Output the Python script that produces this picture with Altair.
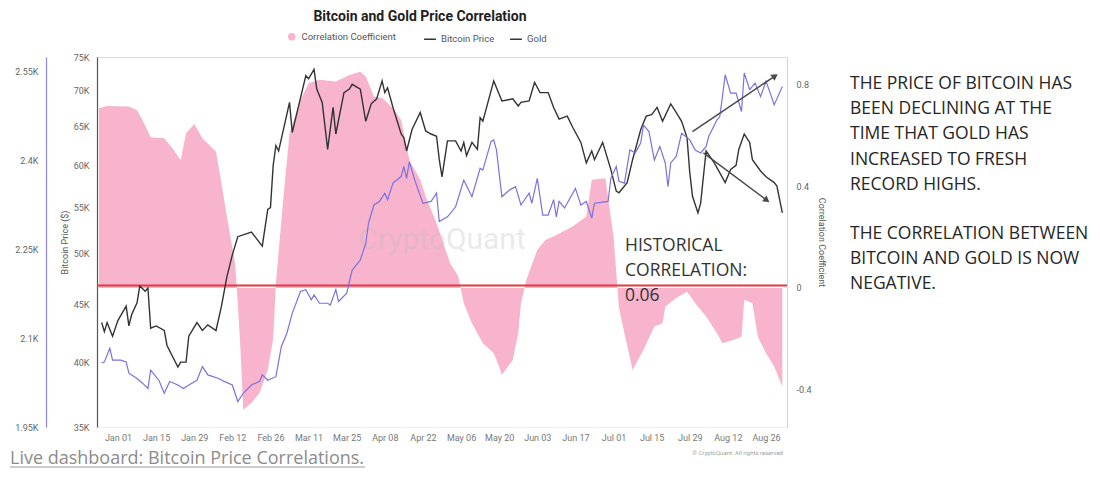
import altair as alt
import pandas as pd

TITLE = "Bitcoin and Gold Price Correlation"

# ---- Correlation coefficient (right axis) ----
corr_dates = [
    "2023-12-25", "2023-12-28",
    "2024-01-05", "2024-01-08", "2024-01-10", "2024-01-13", "2024-01-18", "2024-01-21", "2024-01-24", "2024-01-26", "2024-01-29",
    "2024-02-01", "2024-02-06", "2024-02-08", "2024-02-10", "2024-02-13", "2024-02-14", "2024-02-15", "2024-02-16", "2024-02-19", "2024-02-22", "2024-02-25", "2024-02-27", "2024-02-28",
    "2024-03-02", "2024-03-04", "2024-03-08", "2024-03-11", "2024-03-15", "2024-03-21", "2024-03-26", "2024-03-30",
    "2024-04-01", "2024-04-04", "2024-04-07", "2024-04-11", "2024-04-14", "2024-04-16", "2024-04-17", "2024-04-21", "2024-04-23", "2024-04-27",
    "2024-05-02", "2024-05-05", "2024-05-07", "2024-05-10", "2024-05-14", "2024-05-18", "2024-05-20", "2024-05-21", "2024-05-25", "2024-05-27", "2024-05-28", "2024-05-30",
    "2024-06-03", "2024-06-06", "2024-06-10", "2024-06-16", "2024-06-21", "2024-06-23", "2024-06-28",
    "2024-07-01", "2024-07-03", "2024-07-08", "2024-07-12", "2024-07-16", "2024-07-19", "2024-07-20", "2024-07-24", "2024-07-28", "2024-07-31",
    "2024-08-04", "2024-08-08", "2024-08-10", "2024-08-14", "2024-08-17", "2024-08-18", "2024-08-21", "2024-08-23", "2024-08-26", "2024-08-29",
    "2024-09-01",
]
corr_values = [
    0.708, 0.717,
    0.715, 0.700, 0.662, 0.594, 0.590, 0.550, 0.504, 0.610, 0.646,
    0.590, 0.537, 0.413, 0.281, 0.097, -0.060, -0.244, -0.480, -0.453, -0.414, -0.323, -0.200, 0.020,
    0.386, 0.610, 0.740, 0.807, 0.820, 0.813, 0.839, 0.852,
    0.833, 0.754, 0.748, 0.708, 0.662, 0.557, 0.504, 0.426, 0.360, 0.255,
    0.097, 0.045, -0.060, -0.139, -0.218, -0.257, -0.310, -0.343, -0.284, -0.179, -0.060, 0.032,
    0.150, 0.189, 0.209, 0.242, 0.281, 0.426, 0.432,
    0.202, -0.080, -0.323, -0.244, -0.152, -0.139, -0.074, -0.040, -0.015, -0.060,
    -0.113, -0.179, -0.218, -0.205, -0.192, -0.047, -0.060, -0.192, -0.257, -0.310,
    -0.389,
]

# ---- Bitcoin price (USD) ----
btc_dates = [
    "2023-12-26", "2023-12-27", "2023-12-28", "2023-12-30",
    "2024-01-01", "2024-01-04", "2024-01-05", "2024-01-06", "2024-01-08", "2024-01-09", "2024-01-11", "2024-01-12", "2024-01-13", "2024-01-15", "2024-01-18", "2024-01-19", "2024-01-23", "2024-01-24", "2024-01-26", "2024-01-27", "2024-01-30",
    "2024-02-01", "2024-02-03", "2024-02-06", "2024-02-08", "2024-02-10", "2024-02-12", "2024-02-14", "2024-02-19", "2024-02-23", "2024-02-25", "2024-02-26", "2024-02-27", "2024-02-28", "2024-02-29",
    "2024-03-04", "2024-03-05", "2024-03-07", "2024-03-10", "2024-03-11", "2024-03-13", "2024-03-14", "2024-03-16", "2024-03-18", "2024-03-20", "2024-03-21", "2024-03-24", "2024-03-26", "2024-03-27", "2024-03-30",
    "2024-04-01", "2024-04-03", "2024-04-05", "2024-04-07", "2024-04-08", "2024-04-09", "2024-04-11", "2024-04-14", "2024-04-15", "2024-04-16", "2024-04-18", "2024-04-21", "2024-04-23", "2024-04-25", "2024-04-27", "2024-04-28", "2024-04-29",
    "2024-05-01", "2024-05-04", "2024-05-06", "2024-05-07", "2024-05-08", "2024-05-10", "2024-05-12", "2024-05-13", "2024-05-14", "2024-05-18", "2024-05-21", "2024-05-25", "2024-05-27", "2024-05-28", "2024-05-31",
    "2024-06-02", "2024-06-04", "2024-06-07", "2024-06-09", "2024-06-11", "2024-06-14", "2024-06-16", "2024-06-19", "2024-06-21", "2024-06-23", "2024-06-24", "2024-06-27", "2024-06-30",
    "2024-07-02", "2024-07-03", "2024-07-06", "2024-07-08", "2024-07-11", "2024-07-13", "2024-07-15", "2024-07-17", "2024-07-19", "2024-07-22", "2024-07-24", "2024-07-26", "2024-07-28", "2024-07-29", "2024-07-30",
    "2024-08-01", "2024-08-02", "2024-08-03", "2024-08-04", "2024-08-07", "2024-08-09", "2024-08-11", "2024-08-13", "2024-08-15", "2024-08-16", "2024-08-18", "2024-08-20", "2024-08-21", "2024-08-24", "2024-08-26", "2024-08-29", "2024-08-30",
    "2024-09-01",
]
btc_values = [
    43400, 42600, 43400, 42200,
    43600, 44900, 43100, 44100, 45200, 46800, 46300, 46600, 42900, 43100, 42700, 41400, 39600, 40000, 40000, 42200, 43400,
    42700, 43200, 42700, 44900, 47700, 49900, 51800, 52300, 50800, 54800, 55000, 60000, 62500, 61800,
    68300, 64200, 67300, 72200, 71700, 73100, 70200, 68300, 62000, 67600, 64000, 69700, 70200, 70900, 70200,
    65700, 68100, 68800, 71400, 69700, 70400, 67600, 64000, 63500, 61800, 64600, 66900, 64400, 64000, 63700, 60700, 58600,
    63100, 63100, 61800, 62900, 61200, 62900, 62000, 66200, 65700, 71400, 68500, 68800, 67800, 68300, 68500,
    71200, 69700, 69700, 67600, 66000, 66400, 64900, 62900, 60300, 61800, 60700, 62900, 59500,
    56900, 56700, 57900, 60700, 64600, 66400, 66600, 67600, 65700, 68100, 66900, 65700, 63500, 59100, 56300,
    54400, 55500, 58600, 61800, 60300, 59100, 57900, 59500, 60000, 62000, 64000, 62900, 60700, 59300, 58600, 57900, 57500,
    54400,
]

# ---- Gold price (USD) ----
gold_dates = [
    "2023-12-26", "2023-12-27", "2023-12-29", "2023-12-30",
    "2024-01-02", "2024-01-04", "2024-01-05", "2024-01-08", "2024-01-10", "2024-01-12", "2024-01-13", "2024-01-16", "2024-01-18", "2024-01-20", "2024-01-23", "2024-01-25", "2024-01-27", "2024-01-30",
    "2024-02-01", "2024-02-03", "2024-02-07", "2024-02-09", "2024-02-12", "2024-02-14", "2024-02-16", "2024-02-19", "2024-02-22", "2024-02-23", "2024-02-25", "2024-02-28",
    "2024-03-01", "2024-03-03", "2024-03-05", "2024-03-08", "2024-03-10", "2024-03-12", "2024-03-13", "2024-03-15", "2024-03-18", "2024-03-19", "2024-03-21", "2024-03-22", "2024-03-25", "2024-03-27", "2024-03-30",
    "2024-04-01", "2024-04-02", "2024-04-04", "2024-04-06", "2024-04-08", "2024-04-09", "2024-04-11", "2024-04-14", "2024-04-15", "2024-04-16", "2024-04-17", "2024-04-19", "2024-04-22", "2024-04-25", "2024-04-27", "2024-04-28",
    "2024-05-01", "2024-05-04", "2024-05-07", "2024-05-10", "2024-05-13", "2024-05-14", "2024-05-17", "2024-05-18", "2024-05-19", "2024-05-21", "2024-05-24", "2024-05-26", "2024-05-28", "2024-05-31",
    "2024-06-01", "2024-06-03", "2024-06-05", "2024-06-07", "2024-06-09", "2024-06-10", "2024-06-11", "2024-06-13", "2024-06-17", "2024-06-19", "2024-06-21", "2024-06-23", "2024-06-24", "2024-06-29", "2024-06-30",
    "2024-07-02", "2024-07-03", "2024-07-05", "2024-07-07", "2024-07-09", "2024-07-11", "2024-07-12", "2024-07-14", "2024-07-16", "2024-07-18", "2024-07-20", "2024-07-21", "2024-07-22", "2024-07-24", "2024-07-26", "2024-07-29", "2024-07-31",
    "2024-08-02", "2024-08-04", "2024-08-05", "2024-08-08", "2024-08-09", "2024-08-10", "2024-08-11", "2024-08-13", "2024-08-15", "2024-08-17", "2024-08-18", "2024-08-20", "2024-08-22", "2024-08-24", "2024-08-26", "2024-08-28", "2024-08-29",
    "2024-09-01",
]
gold_values = [
    2058, 2060, 2083, 2063,
    2063, 2060, 2041, 2032, 2024, 2015, 2046, 2029, 2007, 2027, 2021, 2015, 2021, 2029,
    2052, 2038, 2032, 2027, 2021, 1993, 2007, 2021, 2027, 2038, 2029, 2035,
    2086, 2108, 2142, 2179, 2182, 2165, 2173, 2159, 2159, 2156, 2182, 2162, 2176, 2215, 2232,
    2260, 2294, 2325, 2331, 2345, 2334, 2362, 2373, 2390, 2370, 2398, 2367, 2328, 2331, 2345, 2297,
    2305, 2322, 2367, 2339, 2387, 2384, 2432, 2435, 2418, 2339, 2351, 2356, 2325, 2345,
    2328, 2370, 2308, 2308, 2334, 2305, 2331, 2320, 2353, 2325, 2331, 2303, 2328, 2331, 2370,
    2390, 2365, 2362, 2418, 2413, 2430, 2460, 2449, 2401, 2424, 2396, 2356, 2396, 2407, 2446, 2435, 2418,
    2413, 2424, 2441, 2469, 2474, 2508, 2545, 2514, 2514, 2483, 2548, 2520, 2531, 2508, 2534, 2508, 2494,
    2525,
]

# ---- axis ticks ----
x_tick_dates = ["2024-01-01", "2024-01-15", "2024-01-29", "2024-02-12", "2024-02-26", "2024-03-11",
                "2024-03-25", "2024-04-08", "2024-04-22", "2024-05-06", "2024-05-20", "2024-06-03",
                "2024-06-17", "2024-07-01", "2024-07-15", "2024-07-29", "2024-08-12", "2024-08-26"]
btc_ticks = [35000, 40000, 45000, 50000, 55000, 60000, 65000, 70000, 75000]
gold_ticks = [1950, 2100, 2250, 2400, 2550]
corr_ticks = [-0.4, 0, 0.4, 0.8]
historical_corr_level = 0.01

# ---- annotation arrows (on the gold scale) ----
arrow_start_dates = ["2024-07-30", "2024-08-03"]
arrow_start_vals = [2449, 2413]
arrow_end_dates = ["2024-08-29", "2024-08-26"]
arrow_end_vals = [2542, 2334]
arrow_angles = [56, 127]

assert len(corr_dates) == len(corr_values)
assert len(btc_dates) == len(btc_values)
assert len(gold_dates) == len(gold_values)

corr_df = pd.DataFrame({"date": pd.to_datetime(corr_dates), "value": corr_values,
                        "series": "Correlation Coefficient"})
btc_df = pd.DataFrame({"date": pd.to_datetime(btc_dates), "value": btc_values, "series": "Bitcoin Price"})
gold_df = pd.DataFrame({"date": pd.to_datetime(gold_dates), "value": gold_values, "series": "Gold"})
arrow_df = pd.DataFrame({"d0": pd.to_datetime(arrow_start_dates), "v0": arrow_start_vals,
                         "d1": pd.to_datetime(arrow_end_dates), "v1": arrow_end_vals, "ang": arrow_angles})


def dt(s, hours=0):
    y, m, d = (int(p) for p in s.split("-"))
    return alt.DateTime(year=y, month=m, date=d, hours=hours)


x_domain = [dt("2023-12-24", 7), dt("2024-09-02", 17)]
x_scale = alt.Scale(domain=x_domain)
x_axis = alt.Axis(values=[dt(s) for s in x_tick_dates], format="%b %d", title=None, grid=False,
                  ticks=False, labelFontSize=9, labelColor="#777777", labelFont="Roboto",
                  domainColor="#eeeeee", labelPadding=6, labelOverlap=False, labelFlush=False)


def xenc(field):
    return alt.X(f"{field}:T", scale=x_scale, axis=x_axis)


PINK = "#f7b4cc"
GOLD_C = "#7d71dd"
BTC_C = "#333333"


def corr_scale():
    return alt.Scale(domain=[-0.548, 0.91], nice=False, zero=False)


def btc_scale():
    return alt.Scale(type="log", domain=[35000, 75000], nice=False)


def gold_scale():
    return alt.Scale(domain=[1950, 2575], nice=False, zero=False)


corr_axis = alt.Axis(orient="right", values=corr_ticks, labelExpr="'' + datum.value",
                     title="Correlation Coefficient", titleFontWeight="normal", titleFontSize=9,
                     titleColor="#555555", titleFont="Roboto", titlePadding=6,
                     labelFont="Roboto", labelFontSize=9, labelColor="#666666", labelPadding=9,
                     ticks=False, grid=False, domainColor="#f4c3d5")
btc_axis = alt.Axis(orient="left", values=btc_ticks, labelExpr="(datum.value / 1000) + 'K'",
                    title="Bitcoin Price ($)", titleFontWeight="normal", titleFontSize=9,
                    titleColor="#555555", titleFont="Roboto", titlePadding=4,
                    labelFont="Roboto", labelFontSize=9, labelColor="#666666", labelPadding=8,
                    ticks=False, grid=False, domainColor="#555555", domainWidth=1.2)
gold_axis = alt.Axis(orient="left", offset=51, values=gold_ticks, labelExpr="(datum.value / 1000) + 'K'",
                     title=None, labelFont="Roboto", labelFontSize=9, labelColor="#666666", labelPadding=8,
                     ticks=False, grid=False, domainColor="#8f86e8", domainWidth=1.2)

area = alt.Chart(corr_df).mark_area(interpolate="linear").encode(
    x=xenc("date"),
    y=alt.Y("value:Q", scale=corr_scale(), axis=corr_axis),
    y2=alt.datum(0),
    fill=alt.Fill("series:N", scale=alt.Scale(domain=["Correlation Coefficient"], range=[PINK]),
                  legend=alt.Legend(title=None, orient="none", legendX=190, legendY=-25,
                                    symbolType="circle", symbolSize=55, symbolStrokeWidth=0,
                                    labelFont="Roboto", labelFontSize=9.5, labelColor="#555555",
                                    padding=0, labelOffset=5)),
)

red_rule = alt.Chart(pd.DataFrame({"level": [historical_corr_level]})).mark_rule(
    color="#e5393e", strokeWidth=2).encode(y=alt.Y("level:Q", scale=corr_scale(), axis=None))

watermark = alt.Chart(pd.DataFrame({"t": ["CryptoQuant"]})).mark_text(
    font="Roboto", fontSize=30, color="#bbbbbb", opacity=0.3, align="center", baseline="middle"
).encode(text="t:N", x=alt.value(345), y=alt.value(183))

btc_line = alt.Chart(btc_df).mark_line(strokeWidth=1.4, interpolate="linear").encode(
    x=xenc("date"),
    y=alt.Y("value:Q", scale=btc_scale(), axis=btc_axis),
    color=alt.Color("series:N", scale=alt.Scale(domain=["Bitcoin Price", "Gold"], range=[BTC_C, BTC_C]),
                    legend=alt.Legend(title=None, orient="none", legendX=326, legendY=-25,
                                      direction="horizontal", symbolType="stroke", symbolSize=140,
                                      symbolStrokeWidth=1.5, labelFont="Roboto", labelFontSize=9.5,
                                      labelColor="#555555", columnPadding=12, padding=0, labelOffset=4)),
)

gold_line = alt.Chart(gold_df).mark_line(strokeWidth=1.2, color=GOLD_C, interpolate="linear").encode(
    x=xenc("date"),
    y=alt.Y("value:Q", scale=gold_scale(), axis=gold_axis),
)

arrow_lines = alt.Chart(arrow_df).mark_rule(color="#4a4a4a", strokeWidth=1.5).encode(
    x=xenc("d0"), x2="d1:T",
    y=alt.Y("v0:Q", scale=gold_scale(), axis=None), y2="v1:Q",
)
arrow_heads = alt.Chart(arrow_df).mark_point(shape="triangle", filled=True, size=55,
                                             color="#4a4a4a", opacity=1).encode(
    x=xenc("d1"),
    y=alt.Y("v1:Q", scale=gold_scale(), axis=None),
    angle=alt.Angle("ang:Q", scale=None),
)

note_font = "Open Sans"
NOTE_SIZE = 17.5
hist_text = alt.Chart(pd.DataFrame({"t": ["HISTORICAL\nCORRELATION:\n0.06"]})).mark_text(
    font=note_font, fontSize=NOTE_SIZE, color="#333333", align="left", baseline="middle",
    lineBreak="\n", lineHeight=25).encode(text="t:N", x=alt.value(528), y=alt.value(189))

side1 = alt.Chart(pd.DataFrame({"t": [
    "THE PRICE OF BITCOIN HAS\nBEEN DECLINING AT THE\nTIME THAT GOLD HAS\nINCREASED TO FRESH\nRECORD HIGHS."]})).mark_text(
    font=note_font, fontSize=NOTE_SIZE, color="#262626", align="left", baseline="middle",
    lineBreak="\n", lineHeight=25.2).encode(text="t:N", x=alt.value(753), y=alt.value(27))
side2 = alt.Chart(pd.DataFrame({"t": [
    "THE CORRELATION BETWEEN\nBITCOIN AND GOLD IS NOW\nNEGATIVE."]})).mark_text(
    font=note_font, fontSize=NOTE_SIZE, color="#262626", align="left", baseline="middle",
    lineBreak="\n", lineHeight=25.2).encode(text="t:N", x=alt.value(753), y=alt.value(177))

link_text = alt.Chart(pd.DataFrame({"t": ["Live dashboard: Bitcoin Price Correlations."]})).mark_text(
    font=note_font, fontSize=18, color="#8c8c8c", align="left", baseline="alphabetic"
).encode(text="t:N", x=alt.value(-87), y=alt.value(407))
link_underline = alt.Chart(pd.DataFrame({"t": [1]})).mark_rule(color="#9a9a9a", strokeWidth=1).encode(
    x=alt.value(-87), x2=alt.value(268), y=alt.value(410))

copyright_text = alt.Chart(pd.DataFrame({"t": ["© CryptoQuant. All rights reserved"]})).mark_text(
    font="Roboto", fontSize=6, color="#a0a0a0", align="right", baseline="middle"
).encode(text="t:N", x=alt.value(686), y=alt.value(396))

chart = alt.layer(
    area, red_rule, watermark, btc_line, gold_line, arrow_lines, arrow_heads,
    hist_text, side1, side2, link_text, link_underline, copyright_text,
).resolve_scale(y="independent").properties(
    width=690, height=370,
    title=alt.TitleParams(TITLE, font="Roboto", fontSize=14, fontWeight="bold", color="#1e1e1e",
                          anchor="middle", frame="group", dx=-22, offset=8),
    autosize=alt.AutoSizeParams(type="none"),
    padding={"left": 89, "top": 49, "right": 305, "bottom": 47},
).configure_view(stroke=None).configure(background="white")

chart.save("out.html", embed_options={"renderer": "svg", "actions": False})
